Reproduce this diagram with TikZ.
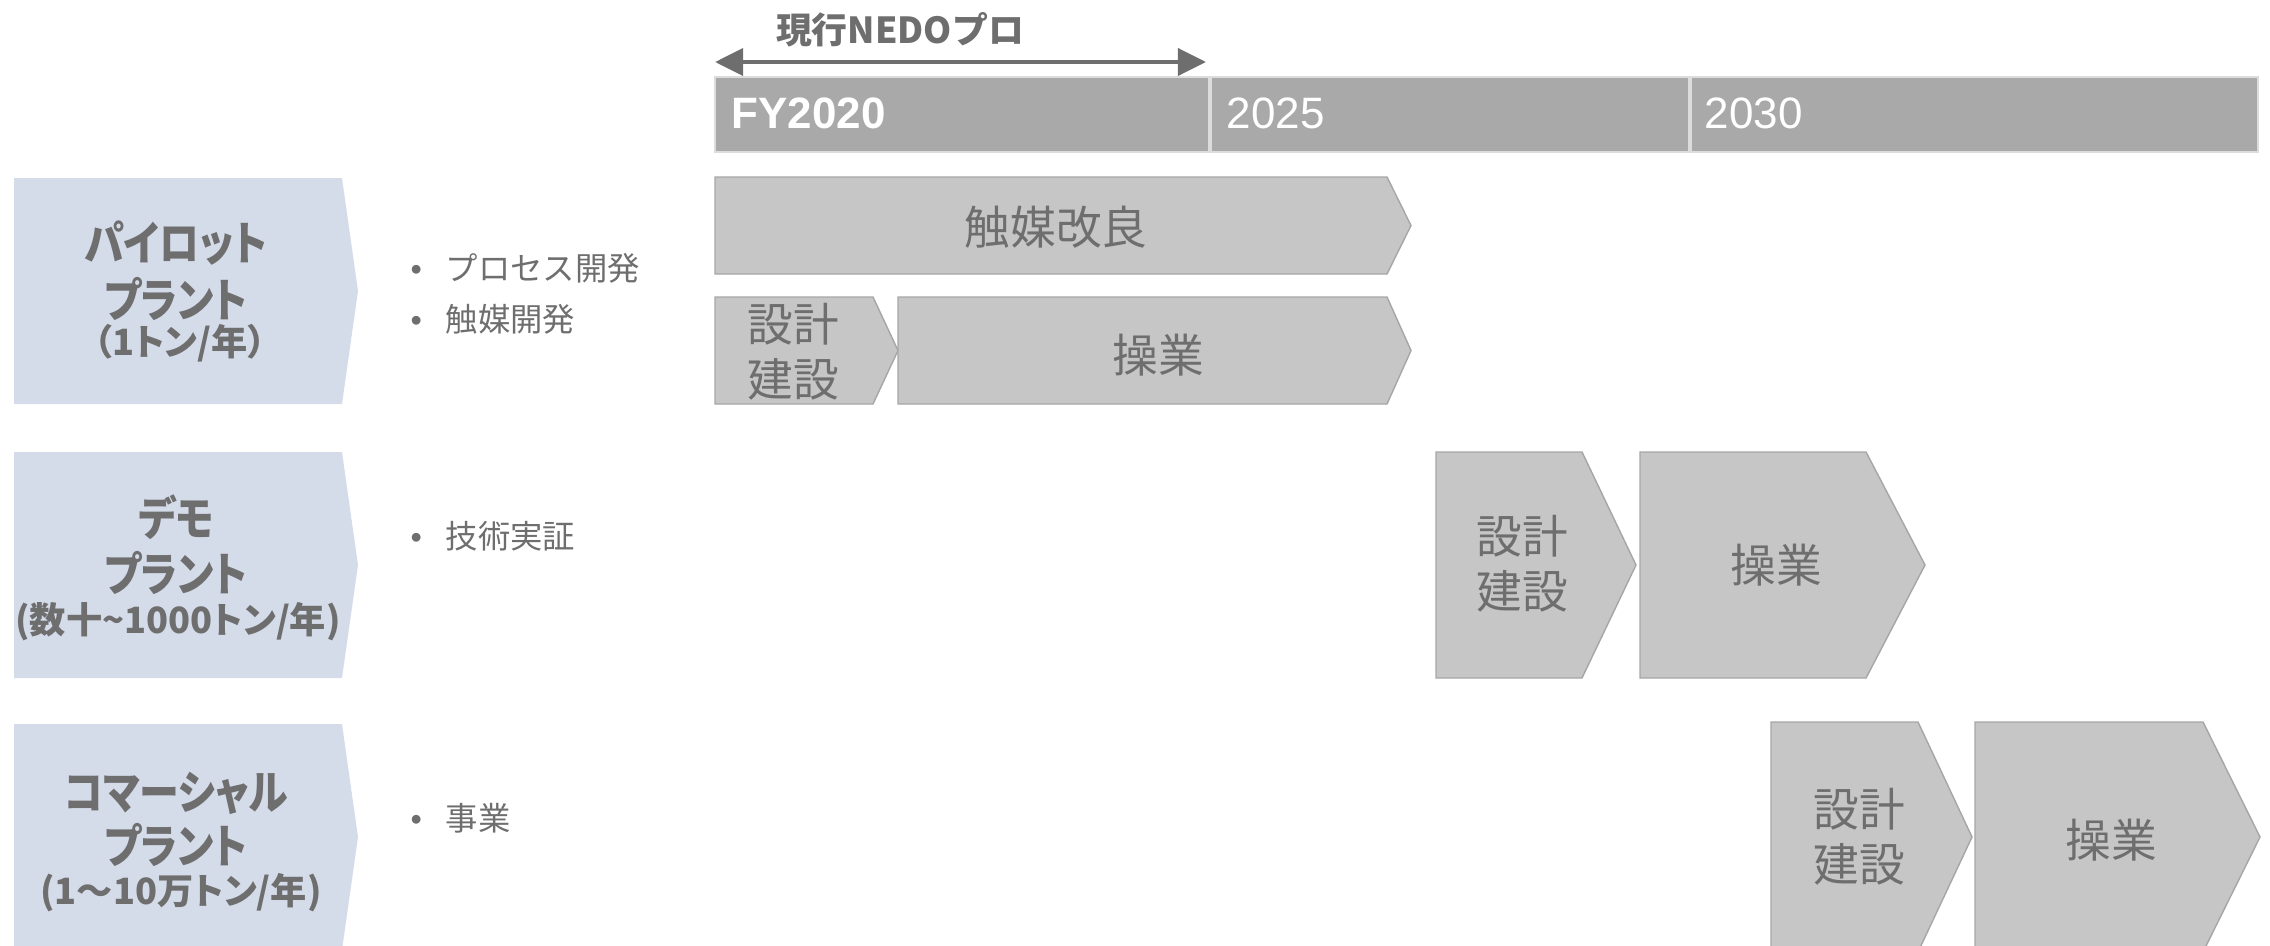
\documentclass[tikz,border=0pt]{standalone}
\usepackage{fontspec}
\setmainfont{Liberation Sans}
\newfontfamily\jp{Noto Sans CJK JP}
\newfontfamily\jpp[RawFeature=+palt]{Noto Sans CJK JP}
\newfontfamily\jpc[RawFeature=+palt,FakeStretch=0.86]{Noto Sans CJK JP}
\usetikzlibrary{arrows.meta}
\definecolor{txt}{HTML}{6E6E6E}
\definecolor{lab}{HTML}{D4DBE9}
\definecolor{boxf}{HTML}{C6C6C6}
\definecolor{boxd}{HTML}{A6A6A6}
\definecolor{barf}{HTML}{A9A9A9}
\definecolor{barline}{HTML}{DCDCDC}
\definecolor{arr}{HTML}{6E6E6E}
\begin{document}
\begin{tikzpicture}[x=0.01cm,y=-0.01cm,
  labshape/.style={fill=lab},
  chev/.style={fill=boxf,draw=boxd,line width=0.4pt},
  lbl/.style={text=txt,inner sep=0,font=\jpc\bfseries\fontsize{13.2}{15}\selectfont},
  sublbl/.style={text=txt,inner sep=0,font=\jpp\bfseries\fontsize{10.3}{12}\selectfont},
  bul/.style={anchor=west,text=txt,inner sep=0,font=\jp\fontsize{9.2}{11}\selectfont},
  btxt/.style={text=txt,inner sep=0,align=center,font=\jp\fontsize{13}{15.6}\selectfont},
  year/.style={anchor=west,text=white,inner sep=0,font=\fontsize{12.5}{14}\selectfont}
]
\useasboundingbox (0,0) rectangle (2270,945);
\clip (0,0) rectangle (2270,945);

% header bar
\fill[barf] (715,77) rectangle (2258,152);
\draw[barline,line width=0.6pt] (715,77) rectangle (2258,152);
\draw[barline,line width=0.9pt] (1210,77) -- (1210,152);
\draw[barline,line width=0.9pt] (1690,77) -- (1690,152);
\node[year,font=\bfseries\fontsize{12.5}{14}\selectfont] (y1) at (731,113) {FY2020};
\node[year] (y2) at (1226,113) {2025};
\node[year] (y3) at (1704,113) {2030};

% NEDO arrow
\coordinate (aL) at (715,62);
\coordinate (aR) at (1206,62);
\draw[arr,line width=1.4pt,{Triangle[length=8pt,width=7.6pt]}-{Triangle[length=8pt,width=7.6pt]}] (aL) -- (aR);
\node[text=txt,inner sep=0,font=\jp\bfseries\fontsize{10.2}{12}\selectfont] (nedo) at (900,30) {現行NEDOプロ};

% row label pentagons
\fill[labshape] (14,178) -- (342,178) -- (358,291) -- (342,404) -- (14,404) -- cycle;
\fill[labshape] (14,452) -- (342,452) -- (358,565) -- (342,678) -- (14,678) -- cycle;
\fill[labshape] (14,724) -- (342,724) -- (358,837) -- (342,950) -- (14,950) -- cycle;

\node[lbl] (p1a) at (176,243) {パイロット};
\node[lbl] (p1b) at (176,299) {プラント};
\node[sublbl] (p1c) at (180,343) {（1トン/年）};

\node[lbl] (p2a) at (176,517) {デモ};
\node[lbl] (p2b) at (176,573) {プラント};
\node[sublbl] (p2c) at (178,622) {(数十\char"007E 1000トン/年)};

\node[lbl] (p3a) at (176,793) {コマーシャル};
\node[lbl] (p3b) at (176,845) {プラント};
\node[sublbl] (p3c) at (181,893) {(1～10万トン/年)};

% bullets
\node[bul] (b1) at (410,268) {\makebox[10pt][l]{\rmfamily •}プロセス開発};
\node[bul] (b2) at (410,319) {\makebox[10pt][l]{\rmfamily •}触媒開発};
\node[bul] (b3) at (410,536) {\makebox[10pt][l]{\rmfamily •}技術実証};
\node[bul] (b4) at (410,818) {\makebox[10pt][l]{\rmfamily •}事業};

% timeline chevrons
\draw[chev] (715,177) -- (1387,177) -- (1411,225.5) -- (1387,274) -- (715,274) -- cycle;
\node[btxt] (c1) at (1056,227) {触媒改良};

\draw[chev] (715,297) -- (873,297) -- (898,350.5) -- (873,404) -- (715,404) -- cycle;
\node[btxt] (c2) at (793,352) {設計\\建設};
\draw[chev] (898,297) -- (1387,297) -- (1411,350.5) -- (1387,404) -- (898,404) -- cycle;
\node[btxt] (c3) at (1158,355) {操業};

\draw[chev] (1436,452) -- (1582,452) -- (1636,565) -- (1582,678) -- (1436,678) -- cycle;
\node[btxt] (c4) at (1522,564) {設計\\建設};
\draw[chev] (1640,452) -- (1866,452) -- (1925,565) -- (1866,678) -- (1640,678) -- cycle;
\node[btxt] (c5) at (1776,565) {操業};

\draw[chev] (1771,722) -- (1918,722) -- (1972,837) -- (1918,952) -- (1771,952) -- cycle;
\node[btxt] (c6) at (1859,837) {設計\\建設};
\draw[chev] (1975,722) -- (2203,722) -- (2260,837) -- (2203,952) -- (1975,952) -- cycle;
\node[btxt] (c7) at (2111,840) {操業};
\end{tikzpicture}
\end{document}
